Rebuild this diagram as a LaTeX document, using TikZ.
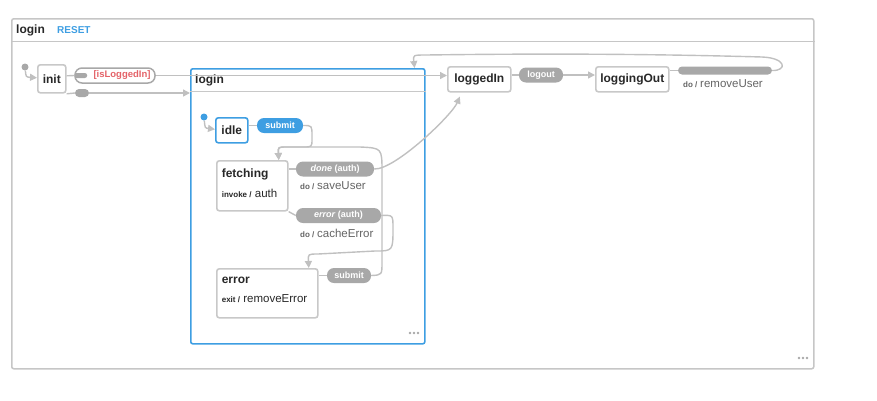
\documentclass[tikz,border=0pt]{standalone}
\usepackage{fontspec}
\setmainfont{Liberation Sans}
\usepackage{tikz}
\usetikzlibrary{arrows.meta}
\definecolor{vizblue}{RGB}{62,158,226}
\definecolor{framegray}{RGB}{198,198,198}
\definecolor{stategray}{RGB}{200,200,200}
\definecolor{pillgray}{RGB}{168,168,168}
\definecolor{linegray}{RGB}{192,192,192}
\definecolor{guardred}{RGB}{228,98,104}
\definecolor{textdark}{RGB}{40,40,40}
\definecolor{actgray}{RGB}{100,100,100}
\newcommand{\actline}[2]{{\fontsize{8}{9}\selectfont\bfseries #1 /} {\fontsize{11.5}{13}\selectfont\mdseries #2}}
\newcommand{\stbody}[3]{\parbox[t][#1][t]{#2}{\raggedright #3}}

\begin{document}
\begin{tikzpicture}[x=1pt,y=-1pt,
    frame/.style={draw=framegray,line width=1.5pt,rounded corners=2pt,anchor=north west,inner sep=0pt},
    state/.style={draw=stategray,line width=1.6pt,rounded corners=2.5pt,fill=white,anchor=north west,
      inner sep=0pt,font=\fontsize{12}{14}\selectfont\bfseries,text=textdark},
    active/.style={draw=vizblue},
    title/.style={anchor=west,inner sep=0pt,font=\fontsize{12}{14}\selectfont\bfseries,text=textdark},
    pill/.style={fill=pillgray,rounded corners=7pt,minimum height=15pt,inner sep=0pt,
      text=white,font=\fontsize{9}{11}\selectfont\bfseries},
    bar/.style={fill=pillgray,rounded corners=4pt,minimum height=8pt,inner sep=0pt},
    guard/.style={draw=pillgray,line width=1.5pt,fill=white,rounded corners=7pt,minimum height=15pt,
      inner sep=0pt,text=guardred,font=\fontsize{9.5}{11}\selectfont\bfseries},
    act/.style={anchor=west,inner sep=0pt,text=actgray},
    initdot/.style={circle,fill=pillgray,minimum size=7pt,inner sep=0pt},
    trans/.style={draw=linegray,line width=1.4pt},
    arr/.style={trans,-{Triangle[length=7pt,width=7pt]}},
    dots/.style={fill=pillgray}]
  \useasboundingbox (0,0) rectangle (877,400);

  % machine frame
  \node[frame,minimum width=802pt,minimum height=350pt] (machine) at (11,18) {};
  \draw[framegray,line width=1pt] ([yshift=-23pt]machine.north west) -- ([yshift=-23pt]machine.north east);
  \node[title] (mtitle) at (16,30) {login};
  \node[anchor=west,inner sep=0pt,text=vizblue,font=\fontsize{10}{12}\selectfont\bfseries] (reset) at (57,30) {RESET};
  \foreach \dx in {-4,0,4} \fill[dots] (803+\dx,358) circle (1.4);

  % compound state
  \node[frame,draw=vizblue,line width=1.6pt,minimum width=234pt,minimum height=275pt] (loginc) at (190,68) {};
  \draw[stategray,line width=0.8pt] ([yshift=-23pt]loginc.north west) -- ([yshift=-23pt]loginc.north east);
  \node[title] (ltitle) at ([shift={(5pt,-12pt)}]loginc.north west) {login};
  \foreach \dx in {-4,0,4} \fill[dots] (414+\dx,333) circle (1.4);

  % states
  \node[initdot] (init0) at (25,67) {};
  \node[state,minimum width=28pt,minimum height=28pt] (init) at (37,64) {init};
  \node[state,minimum width=63pt,minimum height=25pt] (loggedIn) at (447,66) {loggedIn};
  \node[state,minimum width=73pt,minimum height=25pt] (loggingOut) at (595,66) {loggingOut};
  \node[initdot,fill=vizblue] (idle0) at (204,117) {};
  \node[state,active,minimum width=32pt,minimum height=25pt] (idle) at (215,117) {idle};
  \node[state,inner xsep=5pt,inner ysep=8pt] (fetching) at (216,160)
    {\stbody{34pt}{61pt}{fetching\\[6pt]\actline{invoke}{auth}}};
  \node[state,inner xsep=5pt,inner ysep=8pt] (error) at (216,268)
    {\stbody{33pt}{91pt}{error\\[5pt]\actline{exit}{removeError}}};

  % events
  \node[guard,minimum width=80pt] (isLogged) at (115,75.5) {\hspace*{14pt}[isLoggedIn]};
  \fill[pillgray,rounded corners=2.5pt] ([shift={(0pt,2.5pt)}]isLogged.west) rectangle ([shift={(13pt,-2.5pt)}]isLogged.west);
  \node[bar,minimum width=14pt] (always) at (82,93) {};
  \node[pill,minimum width=44pt] (logout) at (541,75) {logout};
  \node[bar,minimum width=94pt] (outbar) at (725,70.5) {};
  \node[act] (doremove) at (683,84) {\actline{do}{removeUser}};
  \node[pill,fill=vizblue,minimum width=46pt] (submitA) at (280,125.5) {submit};
  \node[pill,minimum width=78pt] (done) at (335,169) {\textit{done} (auth)};
  \node[act] (dosave) at (300,186) {\actline{do}{saveUser}};
  \node[pill,minimum width=85pt] (fail) at (338.5,215.5) {\textit{error} (auth)};
  \node[act] (docache) at (300,233) {\actline{do}{cacheError}};
  \node[pill,minimum width=44pt] (submitB) at (349,275.5) {submit};

  % transitions
  \draw[arr] (init0) .. controls (26,77) .. ([yshift=1pt]init.west);
  \draw[trans] ([yshift=3pt]init.east) -- (isLogged.west);
  \draw[arr] (isLogged.east) -- (isLogged.east -| loggedIn.west);
  \draw[trans] ([yshift=-15pt]init.east) -- (always.west);
  \draw[arr] (always.east) -- ([yshift=-25pt]loginc.north west);
  \draw[trans] (logout.west -| loggedIn.east) -- (logout.west);
  \draw[arr] (logout.east) -- (logout.east -| loggingOut.west);
  \draw[trans] (outbar.west -| loggingOut.east) -- (outbar.west);
  \draw[arr] (outbar.east) .. controls (787,71) and (787,58) .. (762,57)
    .. controls (620,53) and (500,54) .. (426,55) .. controls (413,55) .. ([xshift=-11pt]loginc.north east);

  \draw[arr] (idle0) .. controls (205,128) .. ([yshift=1pt]idle.west);
  \draw[trans] (submitA.west -| idle.east) -- (submitA.west);
  \draw[arr] (submitA.east) .. controls (312,125.5) .. (312,136) -- (312,139)
    .. controls (312,147) .. (303,147) -- (287,147) .. controls (278,147) .. ([xshift=26.5pt]fetching.north);
  \draw[trans] (done.west -| fetching.east) -- (done.west);
  \draw[arr] (done.east) .. controls (395,170) and (452,115) .. ([shift={(-19.5pt,-4pt)}]loggedIn.south);
  \draw[trans] (fetching.south east) -- (fail.west);
  \draw[arr] (fail.east) .. controls (393,215) .. (393,228) .. controls (393,251) .. (375,251)
    -- (318,254) .. controls (308,254) .. ([xshift=41.5pt]error.north);
  \draw[trans] (submitB.west -| error.east) -- (submitB.west);
  \draw[arr] (submitB.east) .. controls (382,275) .. (382,262) -- (382,172)
    .. controls (382,148) .. (360,147) -- (287,147) .. controls (278,147) .. ([xshift=26.5pt]fetching.north);
\end{tikzpicture}
\end{document}
